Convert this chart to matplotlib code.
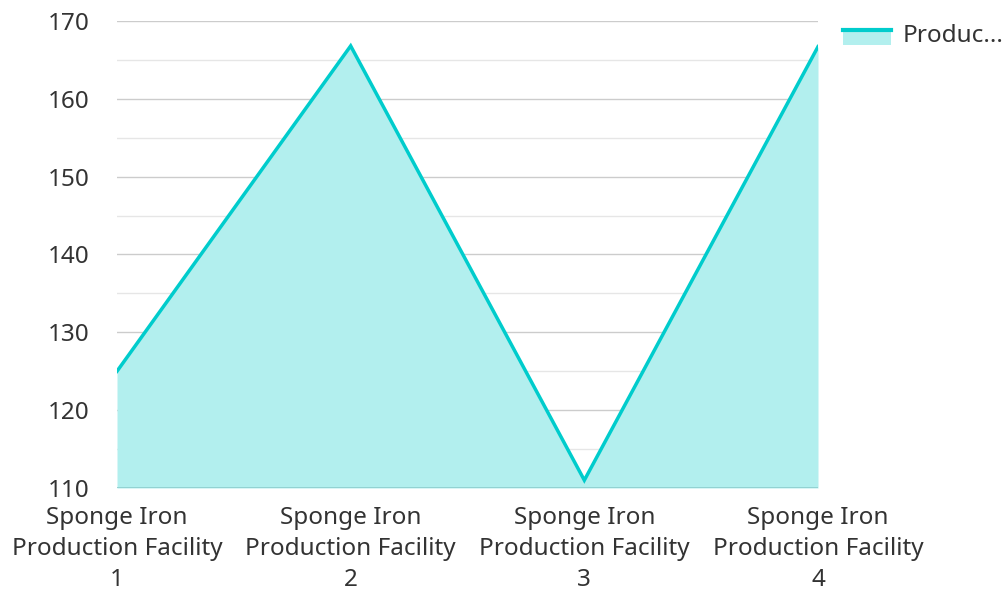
import matplotlib
matplotlib.use('Agg')
import matplotlib.pyplot as plt
from matplotlib.patches import Rectangle
from matplotlib.lines import Line2D

plt.rcParams['font.family'] = ['Noto Sans', 'DejaVu Sans']

categories = ['Sponge Iron\nProduction Facility\n1', 'Sponge Iron\nProduction Facility\n2',
              'Sponge Iron\nProduction Facility\n3', 'Sponge Iron\nProduction Facility\n4']
values = [125.0, 166.8, 111.0, 166.7]
legend_label = 'Produc...'

line_col = '#00cccc'
fill_col = '#b2efee'
text_col = '#333333'
fs = 17.5


class AreaHandler:
    # filled box with the line along its top edge, as in the reference legend
    def legend_artist(self, legend, orig_handle, fontsize, handlebox):
        x0, y0 = handlebox.xdescent, handlebox.ydescent
        w, h = handlebox.width, handlebox.height
        rect = Rectangle((x0, y0 - 0.15 * h), w, h, color=fill_col, lw=0,
                         transform=handlebox.get_transform())
        ln = Line2D([x0, x0 + w], [y0 + 0.8 * h, y0 + 0.8 * h], color=line_col, lw=3,
                    transform=handlebox.get_transform())
        handlebox.add_artist(rect)
        handlebox.add_artist(ln)
        return rect


fig = plt.figure(figsize=(10.05, 5.92), dpi=100)
ax = fig.add_axes([117 / 1005, 104 / 592, 701 / 1005, 467 / 592])

x = list(range(len(values)))
ax.fill_between(x, values, 110, color=fill_col, lw=0, zorder=2)
ax.plot(x, values, color=line_col, lw=2.5, zorder=3, solid_joinstyle='miter')

ax.set_xlim(0, len(values) - 1)
ax.set_ylim(110, 170)
ax.set_yticks(range(110, 171, 10))
ax.set_yticks(range(115, 170, 10), minor=True)
ax.grid(axis='y', which='major', color='#cccccc', lw=1, zorder=1)
ax.grid(axis='y', which='minor', color='#e6e6e6', lw=1, zorder=1)
ax.axhline(110, color='#8fcfcf', lw=2, zorder=4)

ax.set_xticks(x)
ax.set_xticklabels(categories, fontsize=fs, color=text_col, linespacing=1.38)
ax.tick_params(axis='y', which='both', labelsize=fs, labelcolor=text_col, length=0, pad=20)
ax.tick_params(axis='x', which='both', length=0, pad=13)
for s in ax.spines.values():
    s.set_visible(False)

# legend
proxy = Rectangle((0, 0), 1, 1)
leg = fig.legend([proxy], [legend_label], loc='upper left', bbox_to_anchor=(833 / 1005, 1 - 14 / 592),
                 frameon=False, fontsize=fs, handlelength=2.0, handleheight=0.6, handletextpad=0.45,
                 borderaxespad=0, handler_map={Rectangle: AreaHandler()})
for t in leg.get_texts():
    t.set_color(text_col)

fig.savefig('out.png', dpi=100)
